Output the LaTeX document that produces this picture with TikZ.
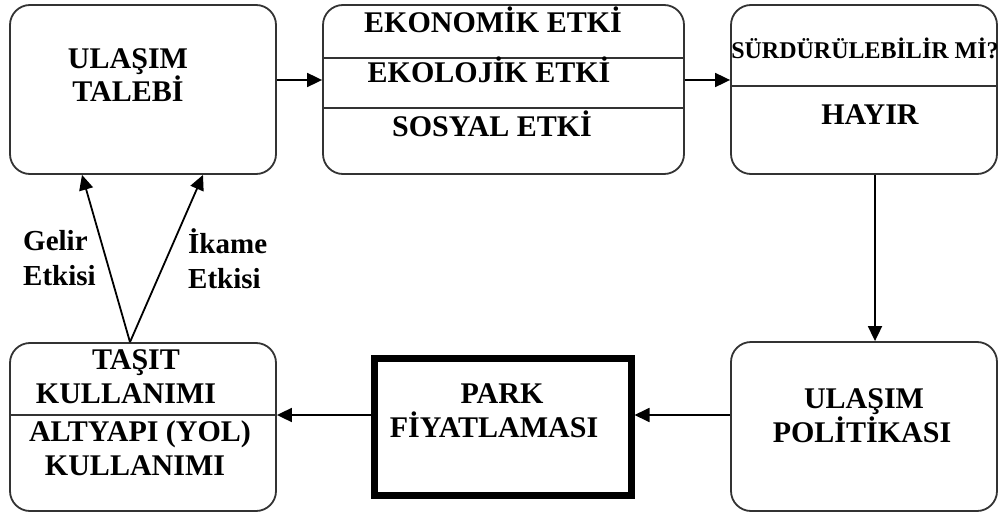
\documentclass[tikz,border=0pt]{standalone}
\usepackage{fontspec}
\setmainfont{Liberation Serif}
\usetikzlibrary{arrows.meta}
\begin{document}
\begin{tikzpicture}[x=1pt,y=-1pt,
  box/.style={draw=black!80, line width=1.8pt, rounded corners=20pt,
    minimum width=266pt, minimum height=169pt, inner sep=0pt},
  txt/.style={anchor=base, inner sep=0pt, font=\fontsize{30}{34}\selectfont\bfseries},
  smalltxt/.style={txt, font=\fontsize{24}{28}\selectfont\bfseries},
  side/.style={anchor=base west, inner sep=0pt, font=\fontsize{29}{34}\selectfont\bfseries},
  flow/.style={draw=black, line width=1.8pt, -{Triangle[length=15pt,width=14pt]}},
  rule/.style={draw=black!80, line width=1.8pt}]
\useasboundingbox[fill=white] (0,0) rectangle (1000,513);

% boxes
\node[box] (demand) at (143,89.5) {};
\node[box, minimum width=361pt] (impact) at (503.5,89.5) {};
\node[box] (sustain) at (864,89.5) {};
\node[box] (policy) at (864,426.5) {};
\node[draw=black, line width=7pt, minimum width=256.5pt, minimum height=137pt,
  inner sep=0pt] (park) at (502.75,427) {};
\node[box, minimum height=168pt] (usage) at (143,427) {};

% helper coordinates for rows and connector positions
\coordinate (rowA) at (0,80);
\coordinate (rowB) at (0,415);
\coordinate (colV) at (875,0);
\coordinate (colU) at (130,0);
\coordinate (colL) at (82,0);
\coordinate (colR) at (203,0);
\coordinate (d1) at (0,58);
\coordinate (d2) at (0,108);
\coordinate (d3) at (0,86);

% dividers inside boxes
\draw[rule] (impact.west |- d1) -- (impact.east |- d1);
\draw[rule] (impact.west |- d2) -- (impact.east |- d2);
\draw[rule] (sustain.west |- d3) -- (sustain.east |- d3);
\draw[rule] (usage.west |- rowB) -- (usage.east |- rowB);

% texts
\node[txt] (t1a) at (128,68.5) {ULAŞIM};
\node[txt] (t1b) at (128,101.5) {TALEBİ};
\node[txt] (t2a) at (493,33) {EKONOMİK ETKİ};
\node[txt] (t2b) at (489,83) {EKOLOJİK ETKİ};
\node[txt] (t2c) at (492,137) {SOSYAL ETKİ};
\node[smalltxt] (t3a) at (865,59) {SÜRDÜRÜLEBİLİR Mİ?};
\node[txt] (t3b) at (870,125) {HAYIR};
\node[txt] (t4a) at (864,408) {ULAŞIM};
\node[txt] (t4b) at (862,442) {POLİTİKASI};
\node[txt] (t5a) at (502,403) {PARK};
\node[txt] (t5b) at (494,437) {FİYATLAMASI};
\node[txt] (t6a) at (136,369) {TAŞIT};
\node[txt] (t6b) at (126,403) {KULLANIMI};
\node[txt] (t6c) at (140,441) {ALTYAPI (YOL)};
\node[txt] (t6d) at (135,475) {KULLANIMI};
\node[side] (g1) at (23,250) {Gelir};
\node[side] (g2) at (23,285) {Etkisi};
\node[side] (k1) at (188,253) {İkame};
\node[side] (k2) at (188,288) {Etkisi};

% connectors
\draw[flow] (demand.east |- rowA) -- (impact.west |- rowA);
\draw[flow] (impact.east |- rowA) -- (sustain.west |- rowA);
\draw[flow] (sustain.south -| colV) -- (policy.north -| colV);
\draw[flow] (policy.west |- rowB) -- (park.east |- rowB);
\draw[flow] (park.west |- rowB) -- (usage.east |- rowB);
\draw[flow] (usage.north -| colU) -- (demand.south -| colL);
\draw[flow] (usage.north -| colU) -- (demand.south -| colR);
\end{tikzpicture}
\end{document}
